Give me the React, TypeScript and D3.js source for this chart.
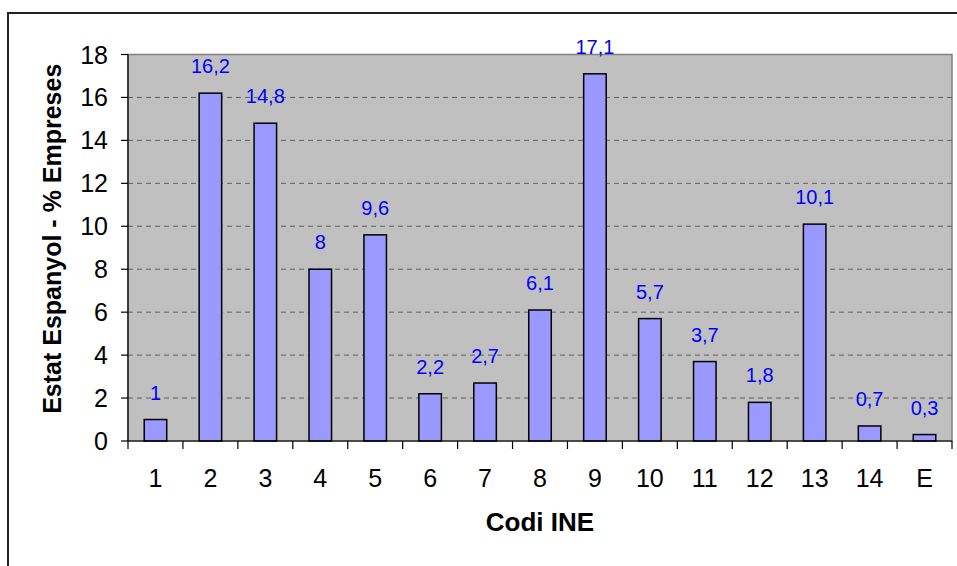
import React from 'react'
import * as d3 from 'd3'

// codi INE categories and % of companies
const categories = ['1', '2', '3', '4', '5', '6', '7', '8', '9', '10', '11', '12', '13', '14', 'E']
const values = [1, 16.2, 14.8, 8, 9.6, 2.2, 2.7, 6.1, 17.1, 5.7, 3.7, 1.8, 10.1, 0.7, 0.3]
const yTicks = [0, 2, 4, 6, 8, 10, 12, 14, 16, 18]

const W = 957
const H = 566
const plot = { left: 128, right: 952, top: 54.5, bottom: 441 }
const font = 'Arial, "Liberation Sans", sans-serif'

const fmt = (v: number) => String(v).replace('.', ',')

const App = () => {
  const x = d3.scaleBand<string>().domain(categories).range([plot.left, plot.right]).padding(0)
  const y = d3.scaleLinear().domain([0, 18]).range([plot.bottom, plot.top])
  const barW = x.bandwidth() * 0.41

  return (
    <svg width={W} height={H} style={{ position: 'absolute', left: 0, top: 0, display: 'block' }}>
      <rect x={0} y={0} width={W} height={H} fill="white" />
      {/* outer chart frame, runs off the picture on right and bottom */}
      <rect x={8} y={13} width={W + 20} height={H + 20} fill="none" stroke="#222" strokeWidth={2} />

      {/* plot area */}
      <rect x={plot.left} y={plot.top} width={plot.right - plot.left} height={plot.bottom - plot.top}
        fill="#C0C0C0" stroke="#808080" strokeWidth={1.5} />

      {/* gridlines */}
      {yTicks.filter(t => t > 0 && t < 18).map(t => (
        <line key={'g' + t} x1={plot.left} x2={plot.right} y1={y(t)} y2={y(t)}
          stroke="#606060" strokeWidth={1} strokeDasharray="5,4" />
      ))}

      {/* bars */}
      {values.map((v, i) => {
        const cx = x(categories[i])! + x.bandwidth() / 2
        return (
          <g key={'b' + i}>
            <rect x={cx - barW / 2} y={y(v)} width={barW} height={y(0) - y(v)}
              fill="#9999FF" stroke="black" strokeWidth={1.5} />
            <text x={cx} y={y(v) - 20} textAnchor="middle" fontFamily={font} fontSize={20} fill="#0000FF">
              {fmt(v)}
            </text>
          </g>
        )
      })}

      {/* y axis */}
      <line x1={plot.left} x2={plot.left} y1={plot.top} y2={plot.bottom} stroke="black" strokeWidth={1.2} />
      {yTicks.map(t => (
        <g key={'y' + t}>
          <line x1={plot.left - 7} x2={plot.left} y1={y(t)} y2={y(t)} stroke="black" strokeWidth={1.2} />
          <text x={108} y={y(t) + 9} textAnchor="end" fontFamily={font} fontSize={25} fill="black">{t}</text>
        </g>
      ))}

      {/* x axis */}
      <line x1={plot.left} x2={plot.right} y1={plot.bottom} y2={plot.bottom} stroke="black" strokeWidth={1.2} />
      {categories.map((c, i) => (
        <line key={'xt' + i} x1={x(c)!} x2={x(c)!} y1={plot.bottom} y2={plot.bottom + 8} stroke="black" strokeWidth={1.2} />
      ))}
      <line x1={plot.right} x2={plot.right} y1={plot.bottom} y2={plot.bottom + 8} stroke="black" strokeWidth={1.2} />
      {categories.map(c => (
        <text key={'xl' + c} x={x(c)! + x.bandwidth() / 2} y={487} textAnchor="middle"
          fontFamily={font} fontSize={25} fill="black">{c}</text>
      ))}

      {/* axis titles */}
      <text x={(plot.left + plot.right) / 2} y={531} textAnchor="middle" fontFamily={font}
        fontSize={26} fontWeight="bold" fill="black">Codi INE</text>
      <text transform={`translate(61,${(plot.top + plot.bottom) / 2 - 9}) rotate(-90)`} textAnchor="middle"
        fontFamily={font} fontSize={25} fontWeight="bold" fill="black">Estat Espanyol - % Empreses</text>
    </svg>
  )
}

export default App
